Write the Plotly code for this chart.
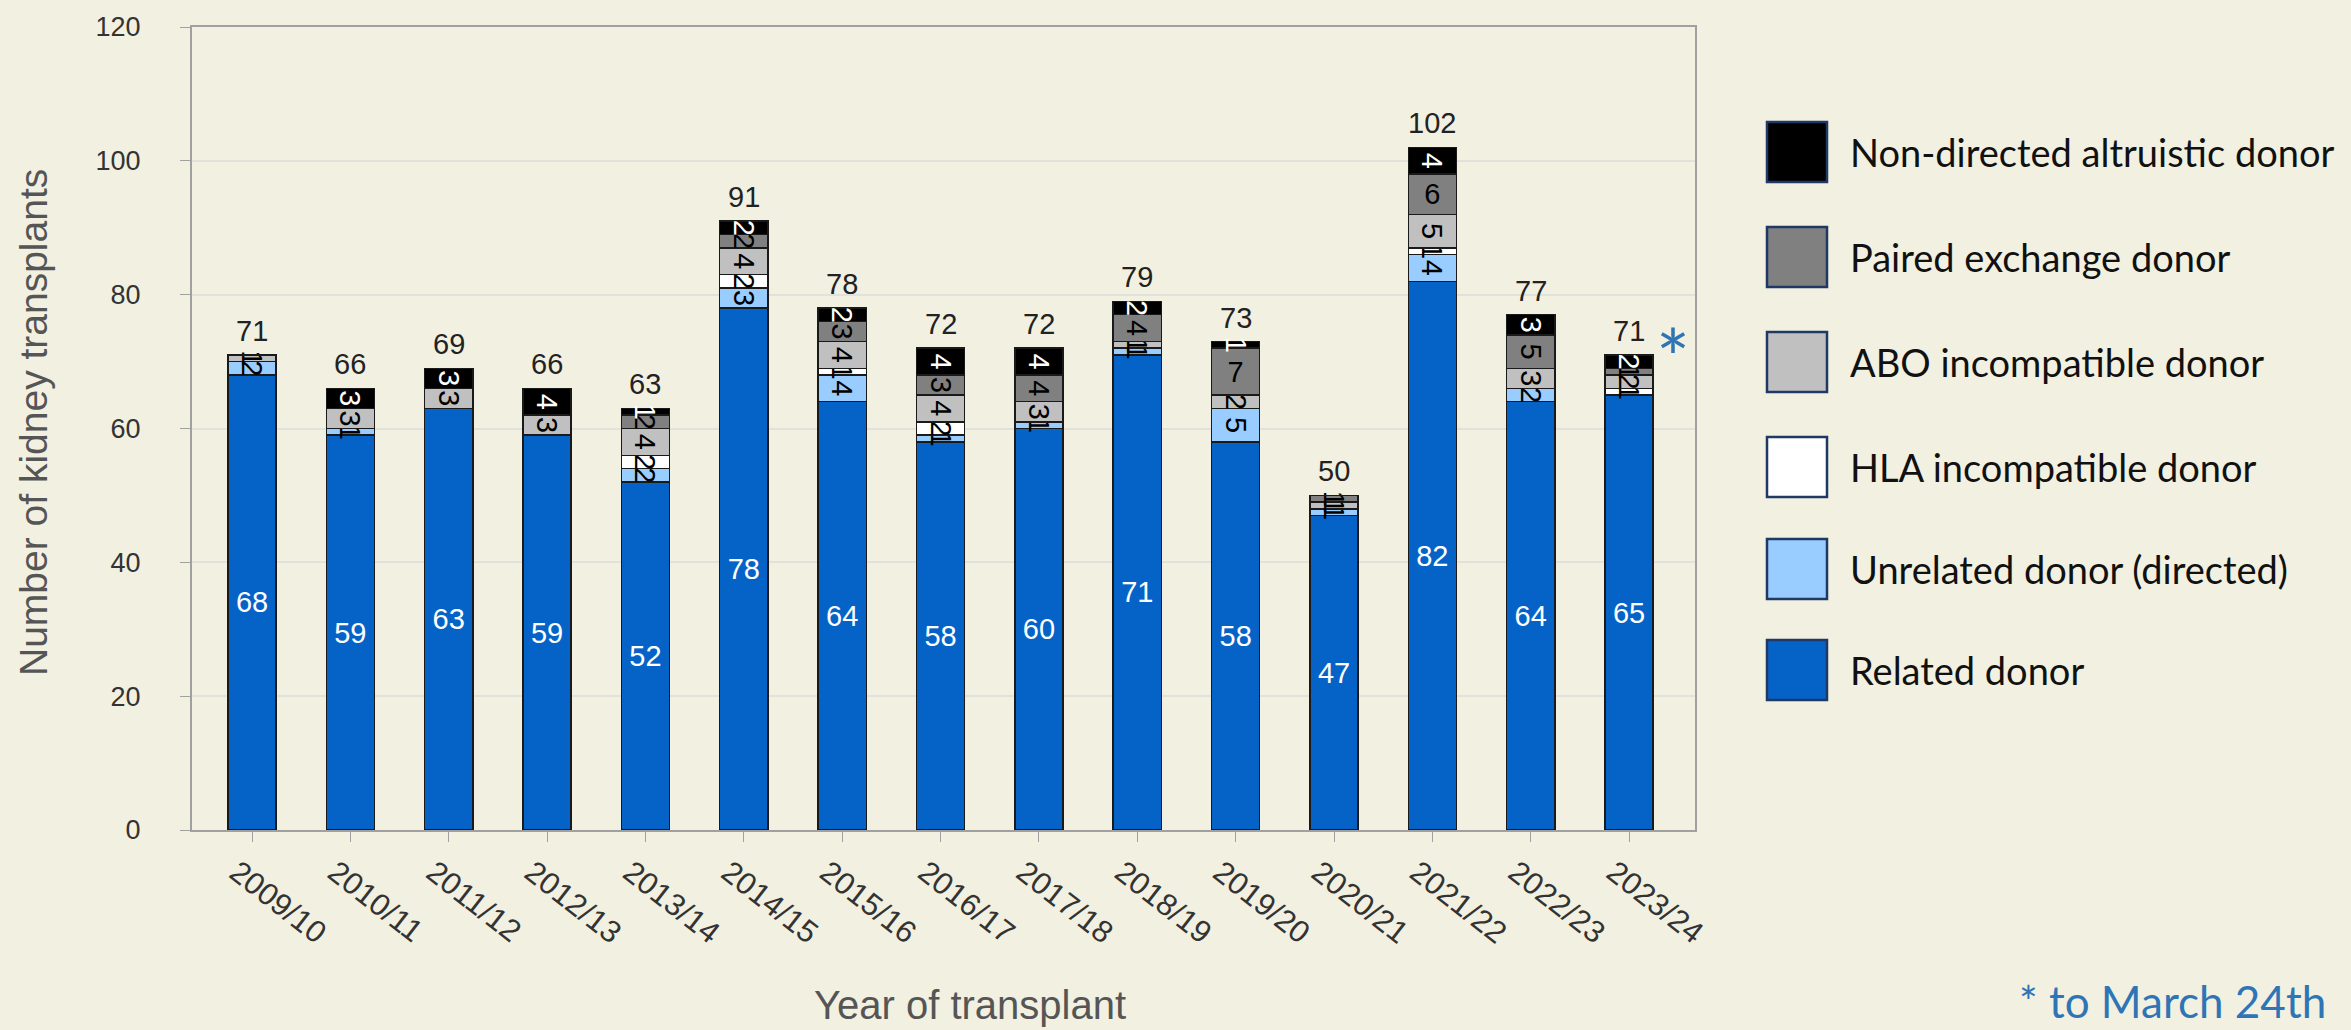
# Living donor kidney transplants by donor type, stacked bars

import plotly.graph_objects as go

years = ["2009/10", "2010/11", "2011/12", "2012/13", "2013/14", "2014/15", "2015/16",
         "2016/17", "2017/18", "2018/19", "2019/20", "2020/21", "2021/22", "2022/23", "2023/24"]

related    = [68, 59, 63, 59, 52, 78, 64, 58, 60, 71, 58, 47, 82, 64, 65]
unrelated  = [2, 1, 0, 0, 2, 3, 4, 1, 1, 1, 5, 1, 4, 2, 0]
hla        = [0, 0, 0, 0, 2, 2, 1, 2, 0, 0, 0, 0, 1, 0, 1]
abo        = [1, 3, 3, 3, 4, 4, 4, 4, 3, 1, 2, 1, 5, 3, 2]
paired     = [0, 0, 0, 0, 2, 2, 3, 3, 4, 4, 7, 1, 6, 5, 1]
altruistic = [0, 3, 3, 4, 1, 2, 2, 4, 4, 2, 1, 0, 4, 3, 2]

series = [
    ("Related donor", related, "#0563C8", "white"),
    ("Unrelated donor (directed)", unrelated, "#99CCFF", "black"),
    ("HLA incompatible donor", hla, "#FFFFFF", "black"),
    ("ABO incompatible donor", abo, "#C0C0C0", "black"),
    ("Paired exchange donor", paired, "#808080", "black"),
    ("Non-directed altruistic donor", altruistic, "#000000", "white"),
]

totals = [sum(v) for v in zip(related, unrelated, hla, abo, paired, altruistic)]

bg = "#F2F0E1"

W, H = 2351, 1030
L, T = 192, 27
PW, PH = 1503, 803


def px(xpage):
    return (xpage - L) / PW


def py(ypage):
    return (T + PH - ypage) / PH


fig = go.Figure()
for name, vals, color, tcolor in series:
    fig.add_trace(go.Bar(
        x=years, y=vals, name=name,
        marker=dict(color=color, line=dict(color="#1a1a1a", width=1.5)),
        text=[str(v) if v else "" for v in vals],
        textposition="inside",
        insidetextanchor="middle",
        constraintext="none",
        textfont=dict(family="Liberation Sans, Arial", size=29, color=tcolor),
        showlegend=False,
    ))

# totals above each bar
for yr, tot in zip(years, totals):
    fig.add_annotation(x=yr, y=tot, text=str(tot), showarrow=False,
                       yanchor="bottom", yshift=6,
                       font=dict(family="Liberation Sans, Arial", size=29, color="#222222"))

fig.update_layout(
    barmode="stack",
    bargap=0.51,
    width=W, height=H,
    margin=dict(l=L, r=W - L - PW, t=T, b=H - T - PH),
    paper_bgcolor=bg, plot_bgcolor=bg,
    font=dict(family="Liberation Sans, Arial", color="#333333"),
)

fig.update_yaxes(
    range=[0, 120], dtick=20,
    showgrid=True, gridcolor="#E2E2DC", gridwidth=1.5,
    showline=True, linecolor="#A0A0A0", linewidth=2, mirror=True,
    ticks="outside", ticklen=10, tickcolor="#A0A0A0",
    ticklabelstandoff=34,
    tickfont=dict(size=27, color="#333333"),
    zeroline=False,
)
fig.update_xaxes(
    range=[-0.61, 14.67],
    showline=True, linecolor="#A0A0A0", linewidth=2, mirror=True,
    ticks="outside", ticklen=10, tickcolor="#A0A0A0",
    tickangle=38, ticklabelshift=-15,
    tickfont=dict(size=31, color="#333333"),
)

# axis titles
fig.add_annotation(xref="paper", yref="paper", x=px(33), y=py(423), textangle=-90,
                   text="Number of kidney transplants", showarrow=False,
                   xanchor="center", yanchor="middle",
                   font=dict(size=39, color="#555555"))
fig.add_annotation(xref="paper", yref="paper", x=px(970), y=py(1005),
                   text="Year of transplant", showarrow=False,
                   xanchor="center", yanchor="middle",
                   font=dict(size=40, color="#555555"))

# custom legend on the right, top entry first
legend_y = [152, 257, 362, 467, 569, 670]
half = 30 / PH
for (name, vals, color, tcolor), ypix in zip(reversed(series), legend_y):
    yp = py(ypix)
    fig.add_shape(type="rect", xref="paper", yref="paper",
                  x0=px(1767), x1=px(1827), y0=yp - half, y1=yp + half,
                  fillcolor=color, line=dict(color="#1F3864", width=2.5))
    fig.add_annotation(xref="paper", yref="paper", x=px(1848), y=yp,
                       text=name, showarrow=False, xanchor="left", yanchor="middle",
                       font=dict(family="Lato", size=38, color="#111111"))

# asterisk next to the last bar, and footnote
fig.add_annotation(x=14.45, y=73, yshift=-14, text="*", showarrow=False,
                   font=dict(family="Lato", size=80, color="#2E75B6"))
fig.add_annotation(xref="paper", yref="paper", x=px(2172), y=py(1001),
                   text="* to March 24th", showarrow=False, xanchor="center", yanchor="middle",
                   font=dict(family="Lato", size=44, color="#2E75B6"))

fig.write_html("out.html", config={"displayModeBar": False},
               post_script="document.body.style.margin='0px';document.body.style.background='%s';" % bg)
